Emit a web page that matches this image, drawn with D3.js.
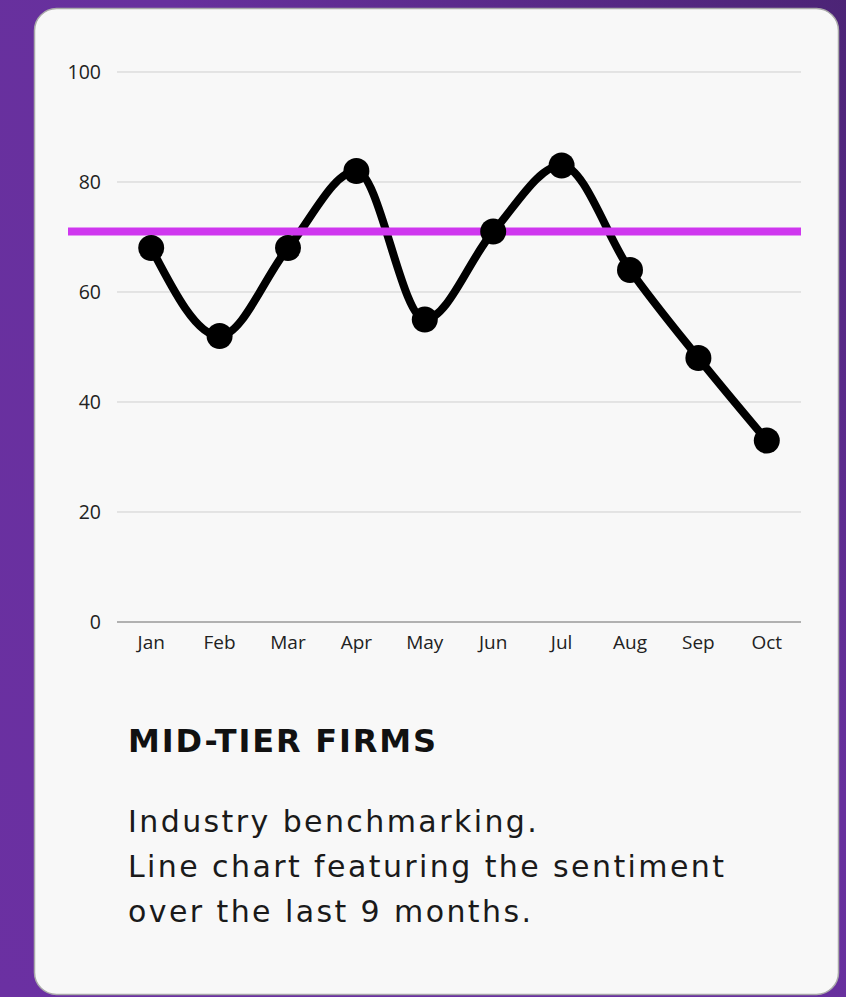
<!DOCTYPE html>
<html lang="en">
<head>
    <meta charset="UTF-8">
    <title>Mid-tier firms</title>
    <style>
        html, body {
            margin: 0;
            padding: 0;
            background: #6a2fa0;
            overflow: hidden;
        }
    </style>
</head>
<body>
<div id="card"></div>
</body>
<script src="https://d3js.org/d3.v7.min.js"></script>
<script>
    // data
    const months = ["Jan", "Feb", "Mar", "Apr", "May", "Jun", "Jul", "Aug", "Sep", "Oct"];
    const sentiment = [68, 52, 68, 82, 55, 71, 83, 64, 48, 33];
    const benchmark = 71;
    const yTicks = [0, 20, 40, 60, 80, 100];
    const title = "MID-TIER FIRMS";
    const bodyLines = ["Industry benchmarking.", "Line chart featuring the sentiment", "over the last 9 months."];

    const W = 846, H = 997;
    const plot = {left: 117, right: 801, top: 72, bottom: 622};

    const svg = d3.select("#card")
        .append("svg")
        .attr("width", W)
        .attr("height", H);

    // purple background, a bit darker to the top right
    const defs = svg.append("defs");
    const grad = defs.append("linearGradient")
        .attr("id", "bg")
        .attr("x1", "0").attr("y1", "1")
        .attr("x2", "1").attr("y2", "0");
    grad.append("stop").attr("offset", "0").attr("stop-color", "#6b30a2");
    grad.append("stop").attr("offset", "0.6").attr("stop-color", "#67309d");
    grad.append("stop").attr("offset", "1").attr("stop-color", "#4c2476");

    svg.append("rect")
        .attr("width", W).attr("height", H)
        .attr("fill", "url(#bg)");

    // the white card
    svg.append("rect")
        .attr("x", 34.5).attr("y", 8.5)
        .attr("width", 804).attr("height", 986)
        .attr("rx", 22).attr("ry", 22)
        .attr("fill", "#f8f8f8")
        .attr("stroke", "#a9a9a9")
        .attr("stroke-width", 1.5);

    const x = d3.scaleBand()
        .domain(months)
        .range([plot.left, plot.right]);

    const y = d3.scaleLinear()
        .domain([0, 100])
        .range([plot.bottom, plot.top]);

    // grid lines + y labels
    const g = svg.append("g");
    g.selectAll(".grid")
        .data(yTicks)
        .join("line")
        .attr("class", "grid")
        .attr("x1", plot.left).attr("x2", plot.right)
        .attr("y1", d => y(d)).attr("y2", d => y(d))
        .attr("stroke", d => d === 0 ? "#9a9a9a" : "#cfcfcf")
        .attr("stroke-width", d => d === 0 ? 1.5 : 1);

    g.selectAll(".ylab")
        .data(yTicks)
        .join("text")
        .attr("class", "ylab")
        .attr("x", 101)
        .attr("y", d => y(d))
        .attr("dy", "0.35em")
        .attr("text-anchor", "end")
        .style("font-family", "'Open Sans', sans-serif")
        .style("font-size", "19.5px")
        .attr("fill", "#222")
        .text(d => d);

    // x labels
    g.selectAll(".xlab")
        .data(months)
        .join("text")
        .attr("class", "xlab")
        .attr("x", d => x(d) + x.bandwidth() / 2)
        .attr("y", plot.bottom + 27)
        .attr("text-anchor", "middle")
        .style("font-family", "'Open Sans', sans-serif")
        .style("font-size", "19px")
        .attr("fill", "#222")
        .text(d => d);

    // sentiment line
    const pts = months.map((m, i) => ({m: m, v: sentiment[i]}));
    const line = d3.line()
        .curve(d3.curveMonotoneX)
        .x(d => x(d.m) + x.bandwidth() / 2)
        .y(d => y(d.v));

    svg.append("path")
        .datum(pts)
        .attr("d", line)
        .attr("fill", "none")
        .attr("stroke", "#000")
        .attr("stroke-width", 8)
        .attr("stroke-linejoin", "round");

    // benchmark line (sits above the curve, under the dots)
    svg.append("line")
        .attr("x1", 68).attr("x2", plot.right)
        .attr("y1", y(benchmark)).attr("y2", y(benchmark))
        .attr("stroke", "#cf37ef")
        .attr("stroke-width", 8);

    svg.selectAll(".dot")
        .data(pts)
        .join("circle")
        .attr("class", "dot")
        .attr("cx", d => x(d.m) + x.bandwidth() / 2)
        .attr("cy", d => y(d.v))
        .attr("r", 13)
        .attr("fill", "#000");

    // caption text
    const cap = svg.append("g").attr("transform", "translate(128,0)");
    const t = cap.append("text")
        .attr("y", 752)
        .style("font-family", "'DejaVu Sans', sans-serif")
        .style("font-weight", "700")
        .style("font-size", "32px")
        .attr("fill", "#111")
        .text(title);
    // fit letter spacing to the width seen in the picture
    let tw = t.node().getComputedTextLength();
    t.style("letter-spacing", ((308 - tw) / (title.length - 1)) + "px");

    const body = cap.selectAll(".body")
        .data(bodyLines)
        .join("text")
        .attr("class", "body")
        .attr("y", (d, i) => 832 + i * 45)
        .style("font-family", "'DejaVu Sans', sans-serif")
        .style("font-weight", "400")
        .style("font-size", "30px")
        .attr("fill", "#1a1a1a")
        .text(d => d);
    const bw = body.filter((d, i) => i === 1).node().getComputedTextLength();
    body.style("letter-spacing", ((596 - bw) / (bodyLines[1].length - 1)) + "px");
</script>
</html>
